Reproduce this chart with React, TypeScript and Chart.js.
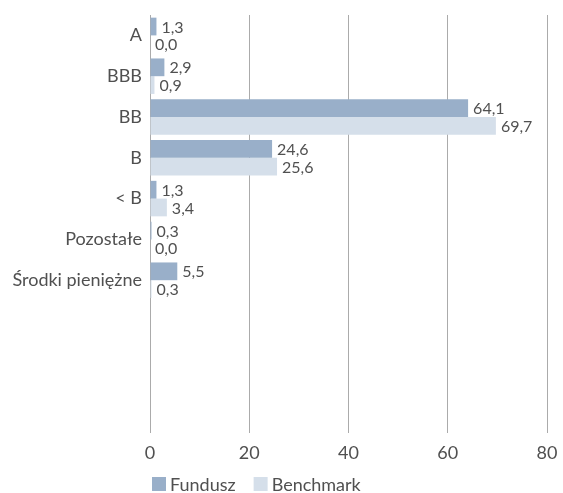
import React, { useEffect, useRef } from "react";
import { Chart, registerables } from "chart.js";

Chart.register(...registerables);

const categories = ["A", "BBB", "BB", "B", "< B", "Pozostałe", "Środki pieniężne", "", "", ""];
const fundusz = [1.3, 2.9, 64.1, 24.6, 1.3, 0.3, 5.5, null, null, null];
const benchmark = [0.0, 0.9, 69.7, 25.6, 3.4, 0.0, 0.3, null, null, null];
const xTicks = [0, 20, 40, 60, 80];
const seriesNames = ["Fundusz", "Benchmark"];

const COLORS = ["#99afc9", "#d5dfea"];
const TEXT = "#505050";
const FONT = "Lato";

const valueLabels = {
  id: "valueLabels",
  afterDatasetsDraw(chart: any) {
    const ctx = chart.ctx;
    ctx.save();
    ctx.font = `16px ${FONT}`;
    ctx.fillStyle = TEXT;
    ctx.textAlign = "left";
    ctx.textBaseline = "middle";
    chart.data.datasets.forEach((ds: any, di: number) => {
      const meta = chart.getDatasetMeta(di);
      meta.data.forEach((el: any, i: number) => {
        const v = ds.data[i];
        if (v === null || v === undefined) return;
        ctx.fillText(v.toFixed(1).replace(".", ","), el.x + 5, el.y + 1);
      });
    });
    ctx.restore();
  },
};

const customLegend = {
  id: "customLegend",
  afterDraw(chart: any) {
    const ctx = chart.ctx;
    ctx.save();
    ctx.font = `18px ${FONT}`;
    ctx.textBaseline = "middle";
    ctx.textAlign = "left";
    let x = 152;
    const y = 484;
    seriesNames.forEach((name, i) => {
      ctx.fillStyle = COLORS[i];
      ctx.fillRect(x, y - 7, 14, 14);
      ctx.fillStyle = TEXT;
      ctx.fillText(name, x + 18, y + 1);
      x += 18 + ctx.measureText(name).width + 18;
    });
    ctx.restore();
  },
};

export default function App() {
  const ref = useRef<HTMLCanvasElement | null>(null);
  useEffect(() => {
    document.body.style.margin = "0";
    if (!ref.current) return;
    const chart = new Chart(ref.current, {
      type: "bar",
      data: {
        labels: categories,
        datasets: [
          { label: seriesNames[0], data: fundusz, backgroundColor: COLORS[0], categoryPercentage: 0.87, barPercentage: 1 },
          { label: seriesNames[1], data: benchmark, backgroundColor: COLORS[1], categoryPercentage: 0.87, barPercentage: 1 },
        ],
      },
      options: {
        indexAxis: "y",
        animation: false,
        responsive: false,
        devicePixelRatio: 1,
        layout: { padding: { top: 15, right: 16, left: 0, bottom: 0 } },
        plugins: { legend: { display: false }, tooltip: { enabled: false } },
        scales: {
          x: {
            min: 0,
            max: 80,
            afterBuildTicks(scale: any) {
              scale.ticks = xTicks.map((v) => ({ value: v }));
            },
            afterFit(scale: any) {
              scale.height = 70;
              scale.paddingLeft = 0;
              scale.paddingRight = 0;
            },
            grid: { color: "#ababab", lineWidth: 1, drawTicks: true, tickLength: 10 },
            border: { display: false },
            ticks: { color: TEXT, font: { family: FONT, size: 18 }, padding: 9 },
          },
          y: {
            afterFit(scale: any) {
              scale.width = 150;
              scale.paddingTop = 0;
              scale.paddingBottom = 0;
            },
            grid: { display: false, drawTicks: false },
            border: { display: false },
            ticks: { color: TEXT, font: { family: FONT, size: 18 }, padding: 8, autoSkip: false },
          },
        },
      },
      plugins: [valueLabels, customLegend],
    });
    return () => chart.destroy();
  }, []);
  return <canvas ref={ref} width={563} height={493} style={{ display: "block" }} />;
}
